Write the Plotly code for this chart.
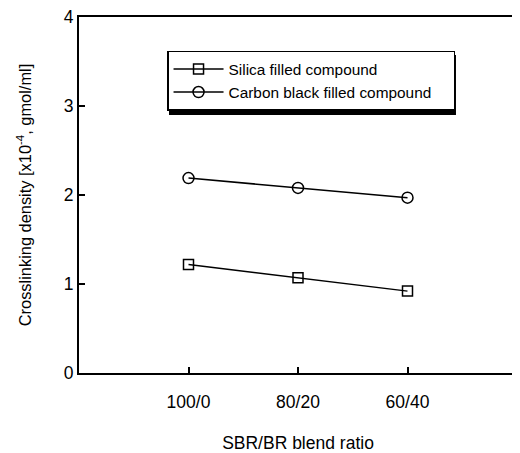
import plotly.graph_objects as go

categories = ["100/0", "80/20", "60/40"]
silica = [1.22, 1.07, 0.92]
carbon_black = [2.19, 2.08, 1.97]
y_ticks = [0, 1, 2, 3, 4]

xpos = [1, 2, 3]

fig = go.Figure()
fig.add_trace(go.Scatter(
    x=xpos, y=silica, mode="lines+markers", name="Silica filled compound",
    line=dict(color="black", width=1.5),
    marker=dict(symbol="square-open", size=10, color="black", line=dict(width=1.5)),
))
fig.add_trace(go.Scatter(
    x=xpos, y=carbon_black, mode="lines+markers",
    name="Carbon black filled compound" + "\u00a0" * 4,
    line=dict(color="black", width=1.5),
    marker=dict(symbol="circle-open", size=11, color="black", line=dict(width=1.5)),
))

# legend shadow
fig.add_shape(type="rect", xref="paper", yref="paper",
              x0=0.2055, x1=0.8607, y0=0.7245, y1=0.893,
              fillcolor="black", line=dict(width=0), layer="above")

fig.update_layout(
    width=512, height=445,
    margin=dict(l=71, r=3, t=9, b=80, autoexpand=False),
    paper_bgcolor="white", plot_bgcolor="white",
    font=dict(family="Arial, Liberation Sans, sans-serif", color="black", size=16),
    showlegend=True,
    legend=dict(x=0.201, y=0.9045, xanchor="left", yanchor="top",
                bgcolor="white", bordercolor="black", borderwidth=1.5,
                font=dict(size=15.4), tracegroupgap=0, itemwidth=50),
    xaxis=dict(range=[0, 4], tickvals=xpos, ticktext=categories, automargin=False,
               showgrid=False, zeroline=False, showline=True, linecolor="black",
               linewidth=2, mirror=True, ticks="inside", ticklen=6, tickwidth=1.5,
               tickcolor="black", tickfont=dict(size=17.5), ticklabelstandoff=12,
               ticklabeloverflow="allow",
               title=dict(text="SBR/BR blend ratio", font=dict(size=17.5), standoff=31)),
    yaxis=dict(range=[0, 4], tickvals=y_ticks, automargin=False,
               showgrid=False, zeroline=False, showline=True, linecolor="black",
               linewidth=2, mirror=True, ticks="inside", ticklen=6, tickwidth=1.5,
               tickcolor="black", tickfont=dict(size=17.5), ticklabelstandoff=0,
               ticklabeloverflow="allow",
               title=dict(text="Crosslinking density [x10<sup>-4</sup>, gmol/ml]",
                          font=dict(size=16.4), standoff=28)),
)

fig.write_html("out.html")
